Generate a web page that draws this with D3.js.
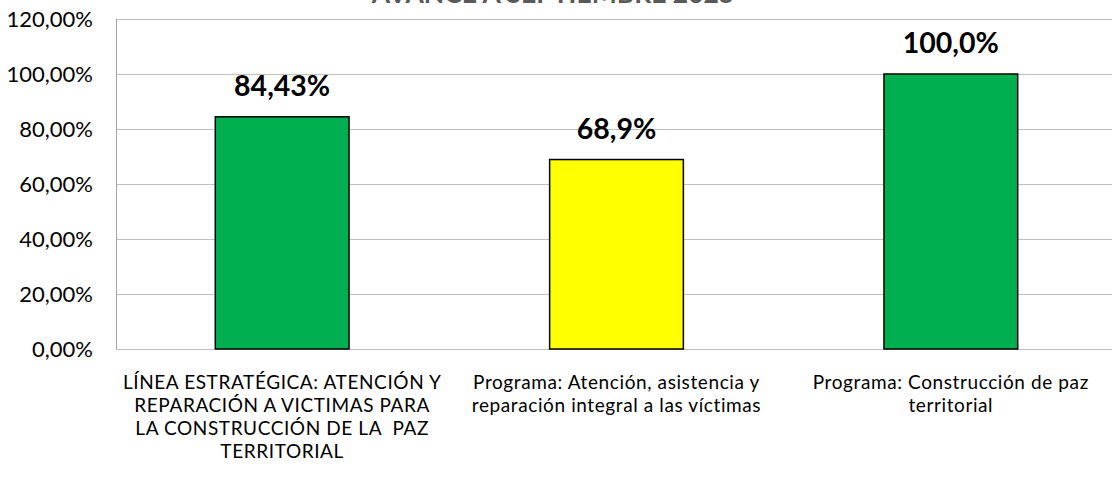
<!DOCTYPE html>
<html lang="es">
<head>
    <meta charset="UTF-8">
    <title>Avance a septiembre 2025</title>
    <script src="https://d3js.org/d3.v7.min.js"></script>
    <style>
        body { margin: 0; background: #fff; }
        svg { display: block; font-family: Lato, "Open Sans", sans-serif; }
    </style>
</head>
<body>
    <script>
        const w = 1112;
        const h = 477;

        // data
        const categories = [
            ["LÍNEA ESTRATÉGICA: ATENCIÓN Y", "REPARACIÓN A VICTIMAS PARA", "LA CONSTRUCCIÓN DE LA  PAZ", "TERRITORIAL"],
            ["Programa: Atención, asistencia y", "reparación integral a las víctimas"],
            ["Programa: Construcción de paz", "territorial"]
        ];
        const values = [84.43, 68.9, 100];
        const valueLabels = ["84,43%", "68,9%", "100,0%"];
        const barColors = ["#00B050", "#FFFF00", "#00B050"];
        const yTicks = [0, 20, 40, 60, 80, 100, 120];

        const svg = d3.select("body")
            .append("svg")
            .attr("width", w)
            .attr("height", h);

        const x = d3.scaleBand()
            .domain(d3.range(values.length))
            .range([115, 1118])
            .paddingInner(0.6)
            .paddingOuter(0.3);

        const y = d3.scaleLinear()
            .domain([0, 120])
            .range([349, 19]);

        // title, mostly cut off at the top (as in the source image)
        svg.append("text")
            .attr("x", 553)
            .attr("y", 3)
            .attr("text-anchor", "middle")
            .attr("font-size", 26.5)
            .attr("font-weight", "bold")
            .attr("fill", "#595959")
            .text("AVANCE A SEPTIEMBRE 2025");

        // gridlines
        svg.append("g")
            .selectAll("line")
            .data(yTicks)
            .enter()
            .append("line")
            .attr("x1", 116)
            .attr("x2", w)
            .attr("y1", d => Math.round(y(d)) + 0.5)
            .attr("y2", d => Math.round(y(d)) + 0.5)
            .attr("stroke", "#C0C0C0")
            .attr("stroke-width", 1);

        // y axis line
        svg.append("line")
            .attr("x1", 116.5).attr("x2", 116.5)
            .attr("y1", y(120)).attr("y2", y(0))
            .attr("stroke", "#A6A6A6");

        const yAxis = d3.axisLeft(y)
            .tickValues(yTicks)
            .tickSize(0)
            .tickPadding(0)
            .tickFormat(d => d3.format(".2f")(d).replace(".", ",") + "%");

        const ya = svg.append("g")
            .attr("transform", "translate(93,0)")
            .call(yAxis);
        ya.select(".domain").remove();
        ya.selectAll("text")
            .attr("font-family", "Lato, sans-serif")
            .attr("font-size", 22)
            .attr("fill", "#000");

        // bars
        svg.selectAll("rect.bar")
            .data(values)
            .enter()
            .append("rect")
            .attr("class", "bar")
            .attr("x", (d, i) => x(i))
            .attr("y", d => y(d))
            .attr("width", x.bandwidth())
            .attr("height", d => y(0) - y(d))
            .attr("fill", (d, i) => barColors[i])
            .attr("stroke", "#000")
            .attr("stroke-width", 1.5);

        // value labels
        svg.selectAll("text.val")
            .data(values)
            .enter()
            .append("text")
            .attr("class", "val")
            .attr("x", (d, i) => x(i) + x.bandwidth() / 2)
            .attr("y", d => y(d) - 21)
            .attr("text-anchor", "middle")
            .attr("font-size", 28.5)
            .attr("font-weight", "bold")
            .attr("fill", "#000")
            .text((d, i) => valueLabels[i]);

        // category labels
        const cat = svg.selectAll("text.cat")
            .data(categories)
            .enter()
            .append("text")
            .attr("class", "cat")
            .attr("text-anchor", "middle")
            .attr("font-size", 19)
            .attr("letter-spacing", 0.6)
            .attr("fill", "#000");

        cat.selectAll("tspan")
            .data((d, i) => d.map(line => ({ line, i })))
            .enter()
            .append("tspan")
            .attr("x", d => x(d.i) + x.bandwidth() / 2)
            .attr("y", (d, j) => 389 + j * 23)
            .attr("xml:space", "preserve")
            .text(d => d.line);
    </script>
</body>
</html>
